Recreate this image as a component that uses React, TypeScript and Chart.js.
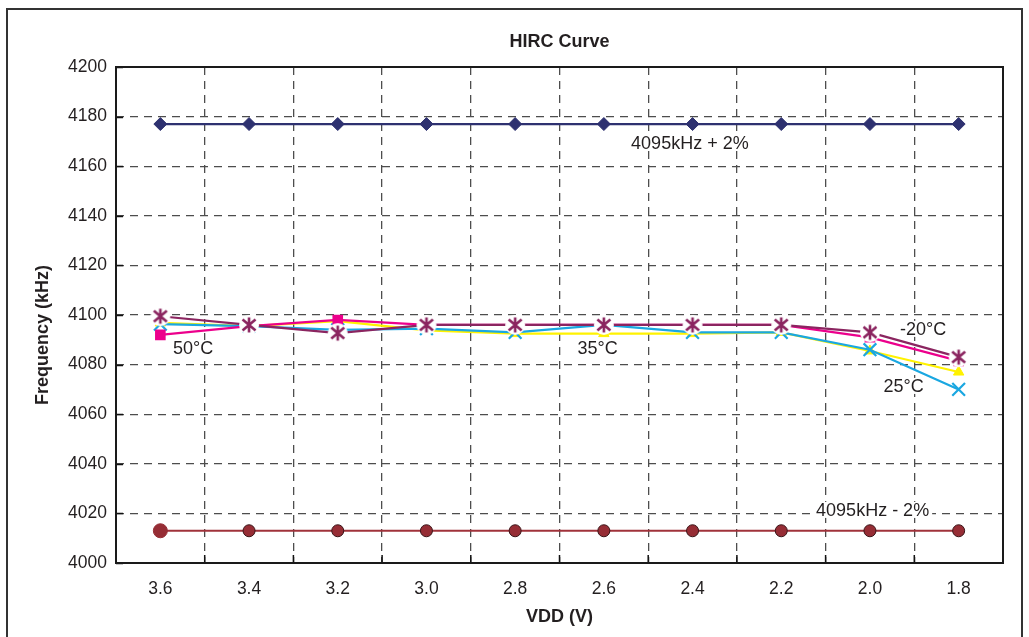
import React, { useEffect, useRef } from "react";
import { Chart, registerables } from "chart.js";

Chart.register(...registerables);

// ---- data ----
const categories = ["3.6", "3.4", "3.2", "3.0", "2.8", "2.6", "2.4", "2.2", "2.0", "1.8"];
const plus2 = [4177, 4177, 4177, 4177, 4177, 4177, 4177, 4177, 4177, 4177];
const minus2 = [4013, 4013, 4013, 4013, 4013, 4013, 4013, 4013, 4013, 4013];
const tempM20 = [4099.5, 4096, 4092.7, 4096, 4096, 4096, 4096, 4096, 4093, 4083];
const temp50 = [4092, 4095.5, 4098, 4096, 4096, 4096, 4096, 4096, 4091, 4081.5];
const temp25 = [4096.3, 4095.5, 4094, 4094.5, 4093, 4096, 4093, 4093, 4086, 4070];
const temp35 = [4096.8, 4095.5, 4097.5, 4093.8, 4092.5, 4092.5, 4092.5, 4093, 4085.5, 4077];
const yMin = 4000;
const yMax = 4200;
const yStep = 20;

const labelTexts = ["4095kHz + 2%", "4095kHz - 2%", "50°C", "35°C", "-20°C", "25°C"];
const labelX = [5.97, 8.03, 0.37, 4.93, 8.6, 8.38];
const labelY = [4169.5, 4021.4, 4086.7, 4086.7, 4094.4, 4071.4];

const chartTitle = "HIRC Curve";
const xTitle = "VDD (V)";
const yTitle = "Frequency (kHz)";

const FONT = "'Liberation Sans', Arial, sans-serif";
const TEXT = "#231f20";

function makeAsterisk(color: string): HTMLCanvasElement {
  const dpr = window.devicePixelRatio || 1;
  const size = 26;
  const c = document.createElement("canvas");
  c.width = size * dpr;
  c.height = size * dpr;
  const g = c.getContext("2d")!;
  g.scale(dpr, dpr);
  const cx = size / 2, cy = size / 2;
  g.fillStyle = "#ffffff";
  g.beginPath();
  g.arc(cx, cy, 10, 0, Math.PI * 2);
  g.fill();
  g.strokeStyle = color;
  g.lineWidth = 2.6;
  g.lineCap = "butt";
  g.beginPath();
  g.moveTo(cx, cy - 7.5);
  g.lineTo(cx, cy + 7.5);
  g.moveTo(cx - 6.5, cy - 5.5);
  g.lineTo(cx + 6.5, cy + 5.5);
  g.moveTo(cx - 6.5, cy + 5.5);
  g.lineTo(cx + 6.5, cy - 5.5);
  g.stroke();
  // present at CSS size
  (c as any).style.width = size + "px";
  (c as any).style.height = size + "px";
  return c;
}

const framePlugin = {
  id: "framePlugin",
  beforeDraw(chart: any) {
    const ctx = chart.ctx;
    ctx.save();
    ctx.fillStyle = "#ffffff";
    ctx.fillRect(0, 0, chart.width, chart.height);
    ctx.restore();
  },
  afterDatasetsDraw(chart: any) {
    const ctx = chart.ctx;
    const xs = chart.scales.x;
    const ys = chart.scales.y;
    ctx.save();
    ctx.font = `18px ${FONT}`;
    ctx.textAlign = "center";
    ctx.textBaseline = "middle";
    for (let i = 0; i < labelTexts.length; i++) {
      const px = xs.getPixelForValue(labelX[i]);
      const py = ys.getPixelForValue(labelY[i]);
      const w = ctx.measureText(labelTexts[i]).width;
      ctx.fillStyle = "#ffffff";
      ctx.fillRect(px - w / 2 - 3, py - 8, w + 6, 16);
      ctx.fillStyle = TEXT;
      ctx.fillText(labelTexts[i], px, py + 1);
    }
    ctx.restore();
  },
  afterDraw(chart: any) {
    const ctx = chart.ctx;
    const a = chart.chartArea;
    const xs = chart.scales.x;
    const ys = chart.scales.y;
    ctx.save();
    // inside ticks
    ctx.strokeStyle = "#111";
    ctx.lineWidth = 1.5;
    ctx.beginPath();
    for (let v = yMin; v <= yMax; v += yStep) {
      const py = Math.round(ys.getPixelForValue(v)) + 0.5;
      ctx.moveTo(a.left, py);
      ctx.lineTo(a.left + 7, py);
    }
    for (let i = 0; i < categories.length - 1; i++) {
      const px = (xs.getPixelForValue(i) + xs.getPixelForValue(i + 1)) / 2;
      ctx.moveTo(px, a.bottom);
      ctx.lineTo(px, a.bottom - 8);
    }
    ctx.stroke();
    // plot border
    ctx.strokeStyle = "#1a1a1a";
    ctx.lineWidth = 2;
    ctx.strokeRect(a.left, a.top, a.right - a.left, a.bottom - a.top);
    // outer border
    ctx.strokeStyle = "#333";
    ctx.lineWidth = 2;
    ctx.strokeRect(7, 9, 1015, 640);
    // titles
    ctx.fillStyle = TEXT;
    ctx.textAlign = "center";
    ctx.textBaseline = "middle";
    ctx.font = `bold 18px ${FONT}`;
    ctx.fillText(chartTitle, (a.left + a.right) / 2, 42);
    ctx.fillText(xTitle, (a.left + a.right) / 2, 617);
    ctx.translate(43, 335);
    ctx.rotate(-Math.PI / 2);
    ctx.fillText(yTitle, 0, 0);
    ctx.restore();
  },
};

export default function App() {
  const ref = useRef<HTMLCanvasElement | null>(null);
  useEffect(() => {
    if (!ref.current) return;
    const asterisk = makeAsterisk("#8b2560");
    const chart = new Chart(ref.current, {
      type: "line",
      data: {
        labels: categories,
        datasets: [
          {
            label: "-20°C",
            data: tempM20,
            borderColor: "#8b2560",
            backgroundColor: "#8b2560",
            borderWidth: 2.2,
            pointStyle: asterisk as any,
            pointRadius: 10,
            order: 0,
          },
          {
            label: "50°C",
            data: temp50,
            borderColor: "#ec008c",
            backgroundColor: "#ec008c",
            borderWidth: 2.2,
            pointStyle: "rect",
            pointRadius: 7.5,
            pointBorderWidth: 0,
            order: 1,
          },
          {
            label: "25°C",
            data: temp25,
            borderColor: "#1aa7e1",
            backgroundColor: "#1aa7e1",
            borderWidth: 2.2,
            pointStyle: "crossRot",
            pointRadius: 9,
            pointBorderWidth: 2.2,
            order: 2,
          },
          {
            label: "35°C",
            data: temp35,
            borderColor: "#fff200",
            backgroundColor: "#fff200",
            borderWidth: 2.2,
            pointStyle: "triangle",
            pointRadius: 6,
            pointBorderWidth: 1,
            order: 3,
          },
          {
            label: "4095kHz + 2%",
            data: plus2,
            borderColor: "#2e3170",
            backgroundColor: "#2e3170",
            borderWidth: 2.2,
            pointStyle: "rectRot",
            pointRadius: 6.5,
            pointBorderWidth: 1,
            order: 4,
          },
          {
            label: "4095kHz - 2%",
            data: minus2,
            borderColor: "#a0323a",
            backgroundColor: "#962d35",
            pointBorderColor: (c: any) => (c.dataIndex === 0 ? "#962d35" : "#3a1518"),
            borderWidth: 2.2,
            pointStyle: "circle",
            pointRadius: (c: any) => (c.dataIndex === 0 ? 7 : 6),
            pointBorderWidth: 1,
            order: 5,
          },
        ],
      },
      options: {
        responsive: false,
        animation: false,
        events: [],
        layout: { padding: { left: 10, right: 26, top: 67, bottom: 10 } },
        plugins: { legend: { display: false }, title: { display: false }, tooltip: { enabled: false } },
        scales: {
          x: {
            type: "category",
            offset: true,
            afterFit: (s: any) => {
              s.height = 64;
            },
            grid: { offset: true, color: "#4d4d4d", lineWidth: 1.3, drawTicks: false },
            border: { display: false, dash: [8, 6] },
            ticks: { color: TEXT, font: { family: FONT, size: 17.5 }, padding: 16, maxRotation: 0 },
          },
          y: {
            min: yMin,
            max: yMax,
            afterFit: (s: any) => {
              s.width = 106;
            },
            grid: { color: "#4d4d4d", lineWidth: 1.3, drawTicks: false },
            border: { display: false, dash: [8, 6] },
            ticks: {
              stepSize: yStep,
              color: TEXT,
              font: { family: FONT, size: 17.5 },
              padding: 9,
              callback: (v: any) => String(v),
            },
          },
        },
      },
      plugins: [framePlugin],
    });
    return () => chart.destroy();
  }, []);
  return (
    <div style={{ position: "absolute", left: 0, top: 0, width: 1029, height: 637 }}>
      <canvas ref={ref} width={1029} height={637} style={{ width: 1029, height: 637, display: "block" }} />
    </div>
  );
}
